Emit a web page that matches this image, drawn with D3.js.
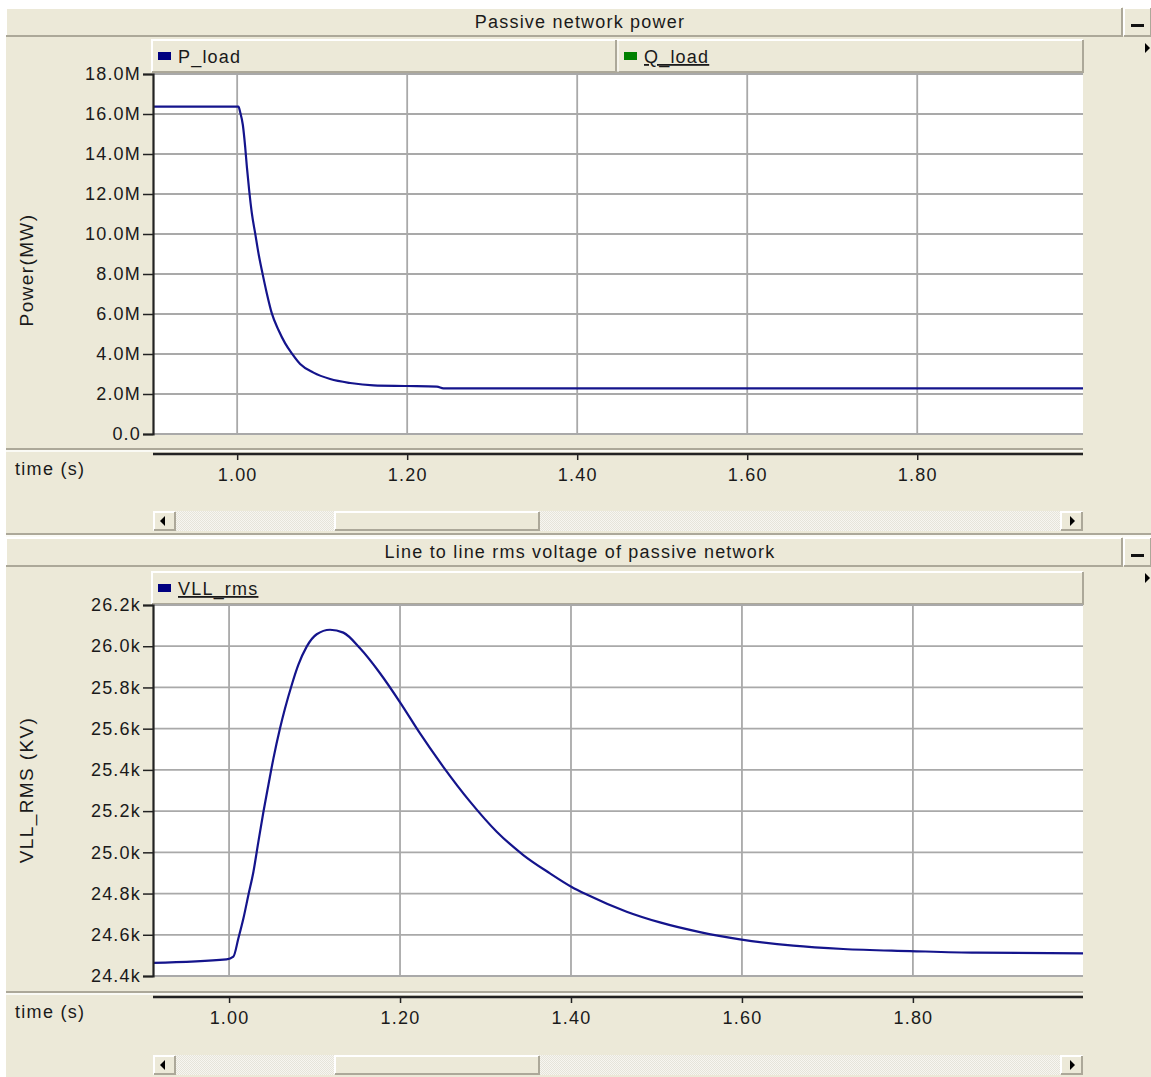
<!DOCTYPE html>
<html><head><meta charset="utf-8">
<script src="https://cdn.jsdelivr.net/npm/d3@7"></script>
<style>
html,body{margin:0;padding:0;background:#fff;}
svg{display:block;}
text{font-family:"Liberation Sans",Arial,sans-serif;fill:#1a1a1a;}
</style></head><body>
<svg id="c" width="1151" height="1077"></svg>
<script>
// ---------- DATA ----------
const titles = ["Passive network power", "Line to line rms voltage of passive network"];
const yTitles = ["Power(MW)", "VLL_RMS (KV)"];
const xTitle = "time (s)";
const xTicks = [1.00, 1.20, 1.40, 1.60, 1.80];
const pTicks = [0, 2, 4, 6, 8, 10, 12, 14, 16, 18];           // MW
const vTicks = [24.4, 24.6, 24.8, 25.0, 25.2, 25.4, 25.6, 25.8, 26.0, 26.2]; // kV
const pLegend = ["P_load", "Q_load"];
const vLegend = ["VLL_rms"];

const pTime = [0.901, 1.0015, 1.0035, 1.0067, 1.0094, 1.0114, 1.0141, 1.0173, 1.0212, 1.0251, 1.0298,
               1.0349, 1.0408, 1.0486, 1.0565, 1.0643, 1.0741, 1.0898, 1.1094, 1.1329, 1.1604, 1.1996,
               1.235, 1.2427, 1.995];
const pLoad = [16.37, 16.37, 16.1, 15.45, 14.37, 13.37, 12.2, 11.03, 10.03, 9.03, 8.03,
               7.03, 6.03, 5.2, 4.53, 4.03, 3.5, 3.07, 2.75, 2.55, 2.43, 2.40,
               2.37, 2.28, 2.28];

const vTime = [0.9115, 0.997, 1.005, 1.0109, 1.0168, 1.0226, 1.0285, 1.0343, 1.0402, 1.046, 1.0519,
               1.0596, 1.0655, 1.0733, 1.081, 1.0908, 1.1025, 1.1181, 1.1337, 1.1532, 1.1766, 1.2008,
               1.2234, 1.2506, 1.2819, 1.3131, 1.3442, 1.3754, 1.4008, 1.4184, 1.4651,
               1.5041, 1.5509, 1.5977, 1.66, 1.7185, 1.7965, 1.8745, 1.999];
const vll   = [24.464, 24.481, 24.494, 24.583, 24.68, 24.793, 24.906, 25.052, 25.197, 25.327, 25.456,
               25.602, 25.699, 25.812, 25.909, 25.998, 26.058, 26.08, 26.066, 25.99, 25.869, 25.723,
               25.577, 25.415, 25.246, 25.1, 24.987, 24.898, 24.832, 24.795, 24.712,
               24.66, 24.613, 24.578, 24.547, 24.531, 24.521, 24.513, 24.51];

// ---------- DRAW ----------
const svg = d3.select("#c");
const BG = "#ECE9D8", DARK = "#ACA899", LINE = "#14148C";
const FS = "18px";

svg.append("rect").attr("x", 6).attr("y", 7).attr("width", 1145).attr("height", 1070).attr("fill", BG);

const hatch = svg.append("defs").append("pattern").attr("id", "hatch")
  .attr("width", 2).attr("height", 2).attr("patternUnits", "userSpaceOnUse");
hatch.append("rect").attr("width", 2).attr("height", 2).attr("fill", "#F7F6F1");
hatch.append("rect").attr("width", 1).attr("height", 1).attr("fill", "#E6E4DA");
hatch.append("rect").attr("x", 1).attr("y", 1).attr("width", 1).attr("height", 1).attr("fill", "#E6E4DA");

function bevel(g, x, y, w, h) {
  g.append("rect").attr("x", x).attr("y", y).attr("width", w).attr("height", h).attr("fill", BG);
  g.append("path").attr("d", `M${x},${y + h}V${y}H${x + w}`).attr("stroke", "#fff").attr("stroke-width", 2).attr("fill", "none");
  g.append("path").attr("d", `M${x},${y + h}H${x + w}V${y}`).attr("stroke", DARK).attr("stroke-width", 2).attr("fill", "none");
}

function panel(cfg) {
  const g = svg.append("g");
  // title bar
  bevel(g, 6, cfg.titleY, 1116, 28);
  g.append("text").attr("x", 580).attr("y", cfg.titleY + 20).attr("text-anchor", "middle")
    .style("font-size", FS).style("letter-spacing", "1.2px").text(cfg.title);
  // minus button
  bevel(g, 1124, cfg.titleY, 27, 28);
  g.append("rect").attr("x", 1131).attr("y", cfg.titleY + 16).attr("width", 13).attr("height", 3).attr("fill", "#111");
  // right-side arrow
  g.append("path").attr("d", `M1145,${cfg.titleY + 35}l5,5l-5,5z`).attr("fill", "#000");

  // legend bar
  bevel(g, 152, cfg.legY, 931, 32);
  cfg.legend.forEach((name, i) => {
    const lx = cfg.legX[i];
    if (i > 0) {
      g.append("line").attr("x1", lx - 8).attr("x2", lx - 8).attr("y1", cfg.legY).attr("y2", cfg.legY + 32).attr("stroke", DARK).attr("stroke-width", 2);
      g.append("line").attr("x1", lx - 6).attr("x2", lx - 6).attr("y1", cfg.legY).attr("y2", cfg.legY + 32).attr("stroke", "#fff").attr("stroke-width", 1);
    }
    g.append("rect").attr("x", lx).attr("y", cfg.legY + 12).attr("width", 13).attr("height", 8).attr("fill", cfg.legColors[i]);
    const t = g.append("text").attr("x", lx + 20).attr("y", cfg.legY + 23).style("font-size", FS).style("letter-spacing", "1.2px").text(name);
    if (cfg.underline[i]) t.style("text-decoration", "underline");
  });

  // scales
  const x = d3.scaleLinear().domain(cfg.xDomain).range([153, 1083]);
  const y = d3.scaleLinear().domain(cfg.yDomain).range([cfg.plotBottom, cfg.plotTop]);

  g.append("rect").attr("x", 153).attr("y", cfg.plotTop).attr("width", 930).attr("height", cfg.plotBottom - cfg.plotTop).attr("fill", "#fff");

  // grid
  g.append("g").selectAll("line").data(cfg.yTicks.slice(1)).join("line")
    .attr("x1", 153).attr("x2", 1083).attr("y1", d => y(d)).attr("y2", d => y(d))
    .attr("stroke", "#A9A9A9").attr("stroke-width", 1.8);
  g.append("g").selectAll("line").data(xTicks).join("line")
    .attr("x1", d => x(d)).attr("x2", d => x(d)).attr("y1", cfg.plotTop).attr("y2", cfg.plotBottom)
    .attr("stroke", "#A9A9A9").attr("stroke-width", 1.8);
  g.append("line").attr("x1", 153).attr("x2", 1083).attr("y1", cfg.plotBottom).attr("y2", cfg.plotBottom)
    .attr("stroke", "#A9A9A9").attr("stroke-width", 1.8);

  // series
  const pts = cfg.tx.map((t, i) => [t, cfg.vy[i]]);
  g.append("path").datum(pts)
    .attr("d", d3.line().x(d => x(d[0])).y(d => y(d[1])).curve(d3.curveMonotoneX))
    .attr("fill", "none").attr("stroke", LINE).attr("stroke-width", 2.2);

  // y axis
  const ya = g.append("g").attr("transform", "translate(153,0)")
    .call(d3.axisLeft(y).tickValues(cfg.yTicks).tickFormat(cfg.fmt).tickSize(10).tickPadding(2));
  ya.select(".domain").attr("stroke", "#222").attr("stroke-width", 2.2);
  ya.selectAll(".tick line").attr("stroke", "#222").attr("stroke-width", 1.5);
  ya.selectAll(".tick text").style("font-size", FS).style("letter-spacing", "1.2px")
    .attr("fill", "#1a1a1a").attr("font-family", null);

  g.append("text").attr("transform", `translate(33,${cfg.yTitleY}) rotate(-90)`).attr("text-anchor", "middle")
    .style("font-size", "19px").style("letter-spacing", "1.4px").text(cfg.yTitle);

  // separator above x axis
  g.append("line").attr("x1", 6).attr("x2", 1083).attr("y1", cfg.sepY).attr("y2", cfg.sepY).attr("stroke", DARK).attr("stroke-width", 2);
  g.append("line").attr("x1", 6).attr("x2", 1083).attr("y1", cfg.sepY + 2).attr("y2", cfg.sepY + 2).attr("stroke", "#fff").attr("stroke-width", 1.5);

  // x axis
  const xa = g.append("g").attr("transform", `translate(0,${cfg.axisY})`)
    .call(d3.axisBottom(x).tickValues(xTicks).tickFormat(d3.format(".2f")).tickSize(6).tickPadding(8));
  xa.select(".domain").attr("stroke", "#222").attr("stroke-width", 2.5).attr("d", `M153,0H1083`);
  xa.selectAll(".tick line").attr("stroke", "#222").attr("stroke-width", 1.5);
  xa.selectAll(".tick text").style("font-size", FS).style("letter-spacing", "1.2px").attr("fill", "#1a1a1a").attr("font-family", null);
  g.append("text").attr("x", 15).attr("y", cfg.axisY + 21).style("font-size", FS).style("letter-spacing", "1.3px").text(xTitle);

  // scrollbar
  const sy = cfg.scrollY;
  g.append("rect").attr("x", 153).attr("y", sy).attr("width", 930).attr("height", 20).attr("fill", "url(#hatch)");
  bevel(g, 154, sy + 1, 21, 18);
  g.append("path").attr("d", `M160,${sy + 10}l5,-5v10z`).attr("fill", "#000");
  bevel(g, 1061, sy + 1, 21, 18);
  g.append("path").attr("d", `M1075,${sy + 10}l-5,-5v10z`).attr("fill", "#000");
  bevel(g, 335, sy + 1, 204, 18);
  // scrollbar bottom divider
  g.append("line").attr("x1", 6).attr("x2", 1151).attr("y1", sy + 23).attr("y2", sy + 23).attr("stroke", DARK).attr("stroke-width", 2);
  g.append("line").attr("x1", 6).attr("x2", 1151).attr("y1", sy + 25).attr("y2", sy + 25).attr("stroke", "#fff").attr("stroke-width", 1.5);
}

panel({
  title: titles[0], titleY: 8, legY: 40, legend: pLegend, legX: [158, 624],
  legColors: ["#000080", "#008000"], underline: [false, true],
  xDomain: [0.901, 1.995], yDomain: [0, 18], plotTop: 74, plotBottom: 434,
  yTicks: pTicks, fmt: d => d === 0 ? "0.0" : d.toFixed(1) + "M",
  tx: pTime, vy: pLoad, yTitle: yTitles[0], yTitleY: 270,
  sepY: 449, axisY: 454, scrollY: 511
});
panel({
  title: titles[1], titleY: 538, legY: 572, legend: vLegend, legX: [158],
  legColors: ["#000080"], underline: [true],
  xDomain: [0.911, 1.999], yDomain: [24.4, 26.2], plotTop: 605, plotBottom: 976,
  yTicks: vTicks, fmt: d => d.toFixed(1) + "k",
  tx: vTime, vy: vll, yTitle: yTitles[1], yTitleY: 790,
  sepY: 992, axisY: 997, scrollY: 1055
});
</script>
</body></html>
